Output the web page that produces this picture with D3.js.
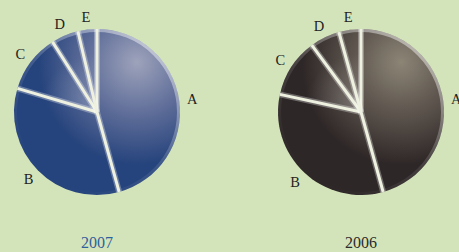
<!DOCTYPE html>
<html>
<head>
<meta charset="utf-8">
<script src="https://cdn.jsdelivr.net/npm/d3@7"></script>
<style>
  body { margin: 0; background: #d3e4bb; }
  svg { display: block; }
  text { font-family: "Liberation Serif", "DejaVu Serif", serif; }
</style>
</head>
<body>
<div id="chart"></div>
<script>
const categories = ["A", "B", "C", "D", "E"];
const values2007 = [45.7, 33.9, 11.4, 5.3, 3.7];
const values2006 = [45.7, 32.7, 11.5, 5.8, 4.3];
const years = ["2007", "2006"];

const width = 459, height = 252, radius = 83;

const svg = d3.select("#chart")
  .append("svg")
  .attr("width", width)
  .attr("height", height);

const defs = svg.append("defs");

const pies = [
  { year: years[0], values: values2007, cx: 97, light: "#9ea3bb", mid: "#5d6c98", dark: "#25437c", yearColor: "#2f5f9c" },
  { year: years[1], values: values2006, cx: 361, light: "#8c8576", mid: "#5a524b", dark: "#2e2727", yearColor: "#2b2b2b" }
];

const pie = d3.pie().sort(null).value(d => d);
const arc = d3.arc().innerRadius(0).outerRadius(radius);
const labelArc = d3.arc().innerRadius(radius + 13).outerRadius(radius + 13);

pies.forEach((p, k) => {
  // main shading, light in the upper right
  const grad = defs.append("radialGradient")
    .attr("id", "shade" + k)
    .attr("gradientUnits", "userSpaceOnUse")
    .attr("cx", 40).attr("cy", -45).attr("r", radius * 1.4)
    .attr("fx", 40).attr("fy", -50);
  grad.append("stop").attr("offset", "0%").attr("stop-color", p.light);
  grad.append("stop").attr("offset", "45%").attr("stop-color", p.mid);
  grad.append("stop").attr("offset", "85%").attr("stop-color", p.dark);
  grad.append("stop").attr("offset", "100%").attr("stop-color", p.dark);

  // inner glow near the centre of the pie
  const glow = defs.append("radialGradient")
    .attr("id", "glow" + k)
    .attr("gradientUnits", "userSpaceOnUse")
    .attr("cx", 0).attr("cy", 0).attr("r", radius * 0.7);
  glow.append("stop").attr("offset", "0%").attr("stop-color", "#fff").attr("stop-opacity", 0.25);
  glow.append("stop").attr("offset", "100%").attr("stop-color", "#fff").attr("stop-opacity", 0);

  // rim highlight
  const rim = defs.append("linearGradient")
    .attr("id", "rim" + k)
    .attr("x1", "80%").attr("y1", "10%").attr("x2", "20%").attr("y2", "90%");
  rim.append("stop").attr("offset", "0%").attr("stop-color", "#fff").attr("stop-opacity", 0.45);
  rim.append("stop").attr("offset", "55%").attr("stop-color", "#fff").attr("stop-opacity", 0.1);
  rim.append("stop").attr("offset", "100%").attr("stop-color", "#fff").attr("stop-opacity", 0);

  const g = svg.append("g")
    .attr("transform", "translate(" + p.cx + ",112)");

  const arcs = pie(p.values);

  g.selectAll("path.slice")
    .data(arcs)
    .join("path")
      .attr("class", "slice")
      .attr("d", arc)
      .attr("fill", "url(#shade" + k + ")");

  g.selectAll("path.glow")
    .data(arcs.slice(2))
    .join("path")
      .attr("class", "glow")
      .attr("d", arc)
      .attr("fill", "url(#glow" + k + ")");

  g.append("circle")
    .attr("r", radius - 1.5)
    .attr("fill", "none")
    .attr("stroke", "url(#rim" + k + ")")
    .attr("stroke-width", 3);

  // separators between slices
  const seps = g.selectAll("g.sep")
    .data(arcs)
    .join("g")
      .attr("class", "sep");
  seps.append("line")
    .attr("x1", 0).attr("y1", 0)
    .attr("x2", d => Math.sin(d.startAngle) * radius)
    .attr("y2", d => -Math.cos(d.startAngle) * radius)
    .attr("stroke", "#ffffff")
    .attr("stroke-opacity", 0.3)
    .attr("stroke-width", 6);
  seps.append("line")
    .attr("x1", 0).attr("y1", 0)
    .attr("x2", d => Math.sin(d.startAngle) * radius)
    .attr("y2", d => -Math.cos(d.startAngle) * radius)
    .attr("stroke", "#eef1df")
    .attr("stroke-width", 3);

  g.selectAll("text.label")
    .data(arcs)
    .join("text")
      .attr("class", "label")
      .attr("transform", d => "translate(" + labelArc.centroid(d) + ")")
      .attr("text-anchor", "middle")
      .attr("dy", "0.35em")
      .attr("font-size", 14.5)
      .attr("fill", "#222")
      .text((d, i) => categories[i]);

  svg.append("text")
    .attr("x", p.cx)
    .attr("y", 248)
    .attr("text-anchor", "middle")
    .attr("font-size", 16)
    .attr("fill", p.yearColor)
    .text(p.year);
});
</script>
</body>
</html>
